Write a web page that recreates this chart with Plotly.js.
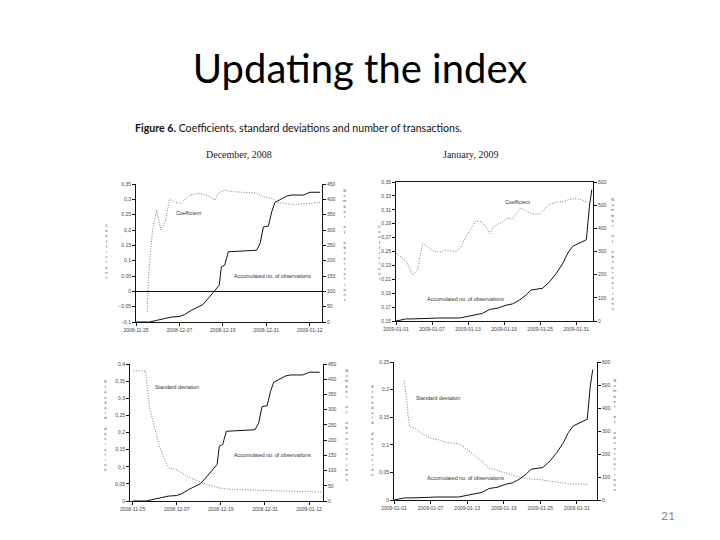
<!DOCTYPE html>
<html>
<head>
<meta charset="utf-8">
<script src="https://cdn.plot.ly/plotly-3.0.1.min.js"></script>
<style>
  html, body { margin: 0; padding: 0; background: #fff; }
  #chart { width: 720px; height: 540px; }
</style>
</head>
<body>
<div id="chart"></div>
<script>
// December 2008 (days counted from 2008-11-25)
const decDaysCoef = [3.1, 3.4, 3.9, 4.6, 5.7, 6.9, 8.1, 9.3, 10.6, 12.5, 14.8, 17.6, 20.4, 21.8, 22.7, 24.5, 26.9, 29.6, 33.3, 35.2, 38, 38.9, 43.5, 47.2, 50.9];
const decCoef = [-0.067, 0.031, 0.118, 0.2, 0.265, 0.2, 0.227, 0.303, 0.29, 0.287, 0.314, 0.32, 0.309, 0.298, 0.32, 0.33, 0.325, 0.322, 0.32, 0.309, 0.301, 0.29, 0.283, 0.286, 0.29];

const decDaysSd = [0.3, 3.5, 3.9, 4.7, 5.8, 7.2, 8.5, 9.9, 12.2, 15, 17.2, 20, 22.3, 24.1, 26.4, 29.6, 32.4, 36.1, 38.8, 42.5, 46.1, 49.8, 51.7];
const decSd = [0.38, 0.38, 0.339, 0.27, 0.222, 0.164, 0.125, 0.097, 0.09, 0.071, 0.061, 0.049, 0.042, 0.037, 0.034, 0.033, 0.031, 0.029, 0.028, 0.027, 0.027, 0.026, 0.026];

const decDaysObs = [0, 3.7, 5.6, 8.3, 9.7, 12, 13.4, 15.3, 17.1, 18.5, 19.9, 21.8, 23, 23.6, 24.5, 25.5, 27.8, 30.6, 33.3, 34.3, 35.2, 36.6, 37.5, 38.4, 39.8, 41.7, 43, 46.3, 48.1, 50.9];
const decObs = [0, 0, 5, 11, 16, 18, 24, 38, 49, 57, 76, 103, 120, 180, 185, 229, 231, 234, 234, 256, 310, 313, 359, 390, 398, 411, 414, 414, 423, 423];

// January 2009 (days counted from 2009-01-01)
const janDaysCoef = [0, 1.7, 2.5, 2.8, 3.6, 4.4, 5.6, 6.4, 7.3, 8.2, 10, 10.7, 11.7, 12.6, 13.3, 14.3, 14.9, 15.6, 16.1, 16.9, 17.8, 18.6, 19.4, 20.3, 20.8, 21.7, 22.8, 23.9, 24.7, 25.6, 26.7, 27.8, 28.9, 30, 31.1, 31.9];
const janCoef = [0.248, 0.236, 0.221, 0.216, 0.224, 0.262, 0.255, 0.25, 0.249, 0.252, 0.25, 0.255, 0.272, 0.285, 0.294, 0.293, 0.286, 0.276, 0.284, 0.289, 0.293, 0.298, 0.297, 0.308, 0.313, 0.308, 0.304, 0.304, 0.31, 0.318, 0.321, 0.322, 0.325, 0.326, 0.324, 0.32];

const janDaysSd = [1.66, 1.88, 2.2, 2.3, 2.6, 3.4, 4.5, 5.9, 7.3, 8.7, 10.6, 11.7, 13.1, 14.5, 15.6, 17.3, 18.9, 20.6, 22.2, 23.9, 25.6, 27.2, 28.9, 30.5, 31.9];
const janSd = [0.216, 0.197, 0.173, 0.152, 0.133, 0.13, 0.121, 0.112, 0.109, 0.104, 0.102, 0.094, 0.082, 0.07, 0.058, 0.052, 0.046, 0.041, 0.038, 0.037, 0.034, 0.032, 0.029, 0.029, 0.028];

const janDaysObs = [0, 1.7, 2.8, 5, 7.2, 10.6, 11.7, 12.8, 14.4, 15.6, 16.9, 18.3, 19.4, 20.6, 21.7, 22.5, 23.6, 24.4, 25.6, 26.7, 27.8, 28.6, 29.4, 30.6, 31.7, 32.2, 32.6];
const janObs = [0, 9, 9, 12, 13, 13, 19, 26, 33, 50, 55, 68, 74, 91, 113, 134, 137, 141, 170, 206, 250, 293, 322, 339, 351, 495, 567];

const DAY = 86400000;
const decStart = Date.UTC(2008, 10, 25);
const janStart = Date.UTC(2009, 0, 1);
const toDates = (start, days) => days.map(d => start + d * DAY);

// pixel -> paper helpers (page is 720x540)
const px = x => x / 720;
const py = y => 1 - y / 540;

const coefLine = { color: "#7a7a7a", width: 1, dash: "1px,1.6px" };
const obsLine = { color: "#111", width: 1 };

const traces = [
    { x: toDates(decStart, decDaysCoef), y: decCoef, xaxis: "x", yaxis: "y", mode: "lines", line: coefLine },
    { x: toDates(decStart, decDaysObs), y: decObs, xaxis: "x", yaxis: "y2", mode: "lines", line: obsLine },
    { x: toDates(janStart, janDaysCoef), y: janCoef, xaxis: "x2", yaxis: "y3", mode: "lines", line: coefLine },
    { x: toDates(janStart, janDaysObs), y: janObs, xaxis: "x2", yaxis: "y4", mode: "lines", line: obsLine },
    { x: toDates(decStart, decDaysSd), y: decSd, xaxis: "x3", yaxis: "y5", mode: "lines", line: coefLine },
    { x: toDates(decStart, decDaysObs), y: decObs, xaxis: "x3", yaxis: "y6", mode: "lines", line: obsLine },
    { x: toDates(janStart, janDaysSd), y: janSd, xaxis: "x4", yaxis: "y7", mode: "lines", line: coefLine },
    { x: toDates(janStart, janDaysObs), y: janObs, xaxis: "x4", yaxis: "y8", mode: "lines", line: obsLine }
];

const tickFont = { family: "Liberation Sans, Arial", size: 5, color: "#444" };

function dateAxis(domain, start, end, step, anchor, mirror) {
    return {
        domain: domain,
        anchor: anchor,
        type: "date",
        range: [start, end],
        tick0: start,
        dtick: step * DAY,
        tickformat: "%Y-%m-%d",
        showgrid: false,
        showline: true,
        linecolor: "#111",
        linewidth: 1,
        mirror: mirror,
        ticks: "outside",
        ticklen: 3,
        tickcolor: "#111",
        tickfont: tickFont,
        zeroline: false
    };
}

function leftAxis(domain, range, step, anchor, zero) {
    return {
        domain: domain,
        anchor: anchor,
        range: range,
        tick0: range[0],
        dtick: step,
        showgrid: false,
        showline: true,
        linecolor: "#111",
        linewidth: 1,
        ticks: "outside",
        ticklen: 3,
        tickcolor: "#111",
        tickfont: tickFont,
        zeroline: zero,
        zerolinecolor: "#111",
        zerolinewidth: 1
    };
}

function rightAxis(overlay, range, step, anchor) {
    return {
        overlaying: overlay,
        side: "right",
        anchor: anchor,
        range: range,
        tick0: 0,
        dtick: step,
        showgrid: false,
        showline: true,
        linecolor: "#111",
        linewidth: 1,
        ticks: "outside",
        ticklen: 3,
        tickcolor: "#111",
        tickfont: tickFont,
        zeroline: false
    };
}

const stack = s => s.split("").map(c => (c === " " ? "&nbsp;" : c)).join("<br>");

const smallFont = { family: "Liberation Sans, Arial", size: 5.3, color: "#333" };
const stackFont = { family: "Liberation Sans, Arial", size: 4, color: "#444" };

function note(text, x, y, font, extra) {
    return Object.assign({
        text: text, x: px(x), y: py(y), xref: "paper", yref: "paper",
        showarrow: false, font: font, xanchor: "center", yanchor: "middle"
    }, extra || {});
}

const annotations = [
    note("<b>Figure 6.</b> Coefficients, standard deviations and number of transactions.", 133, 128,
        { family: "Lato, Open Sans", size: 10.6, color: "#111" }, { xanchor: "left" }),
    note("December, 2008", 239, 155, { family: "Liberation Serif, Times New Roman", size: 10, color: "#222" }),
    note("January, 2009", 470, 155, { family: "Liberation Serif, Times New Roman", size: 10, color: "#222" }),
    note("21", 668, 515, { family: "Lato, Open Sans", size: 12, color: "#8a8a8a" }),

    note("Coefficient", 188, 213, smallFont),
    note("Accumulated no. of observations", 272, 276, smallFont),
    note("Coefficient", 517, 202, smallFont),
    note("Accumulated no. of observations", 465, 299, smallFont),
    note("Standard deviation", 177, 387, smallFont),
    note("Accumulated no. of observations", 272, 455, smallFont),
    note("Standard deviation", 438, 398, smallFont),
    note("Accumulated no. of observations", 465, 478, smallFont),

    note(stack("Coefficient"), 106, 251, stackFont),
    note(stack("Number of observations"), 345, 245, stackFont),
    note(stack("Coefficient"), 379, 252, stackFont),
    note(stack("Number of observations"), 613, 254, stackFont),
    note(stack("Standard deviation"), 105, 425, stackFont),
    note(stack("Number of observations"), 347, 425, stackFont),
    note(stack("Standard deviation"), 372, 430, stackFont),
    note(stack("Number of observations"), 615, 435, stackFont)
];

const layout = {
    width: 720,
    height: 540,
    margin: { l: 0, r: 0, t: 0, b: 0 },
    paper_bgcolor: "#fff",
    plot_bgcolor: "rgba(0,0,0,0)",
    showlegend: false,
    separators: ", ",
    title: {
        text: "Updating the index",
        x: 0.5,
        xanchor: "center",
        y: py(69),
        yanchor: "middle",
        font: { family: "Lato, Open Sans", size: 40, color: "#000" }
    },

    xaxis: dateAxis([px(136), px(322)], decStart, decStart + 51.4 * DAY, 12, "y", false),
    yaxis: leftAxis([py(322), py(184)], [-0.1, 0.35], 0.05, "x", true),
    yaxis2: rightAxis("y", [0, 450], 50, "x"),

    xaxis2: dateAxis([px(396), px(593)], janStart, janStart + 32.8 * DAY, 6, "y3", true),
    yaxis3: leftAxis([py(321), py(182)], [0.15, 0.35], 0.02, "x2", false),
    yaxis4: rightAxis("y3", [0, 600], 100, "x2"),

    xaxis3: dateAxis([px(130), px(323)], decStart - 0.7 * DAY, decStart + 51.8 * DAY, 12, "y5", false),
    yaxis5: leftAxis([py(501), py(364)], [0, 0.4], 0.05, "x3", false),
    yaxis6: rightAxis("y5", [0, 450], 50, "x3"),

    xaxis4: dateAxis([px(394), px(597)], janStart, janStart + 33.3 * DAY, 6, "y7", false),
    yaxis7: leftAxis([py(500), py(362)], [0, 0.25], 0.05, "x4", false),
    yaxis8: rightAxis("y7", [0, 600], 100, "x4"),

    annotations: annotations
};

layout.xaxis3.tick0 = decStart;

Plotly.newPlot("chart", traces, layout, { staticPlot: true });
</script>
</body>
</html>
